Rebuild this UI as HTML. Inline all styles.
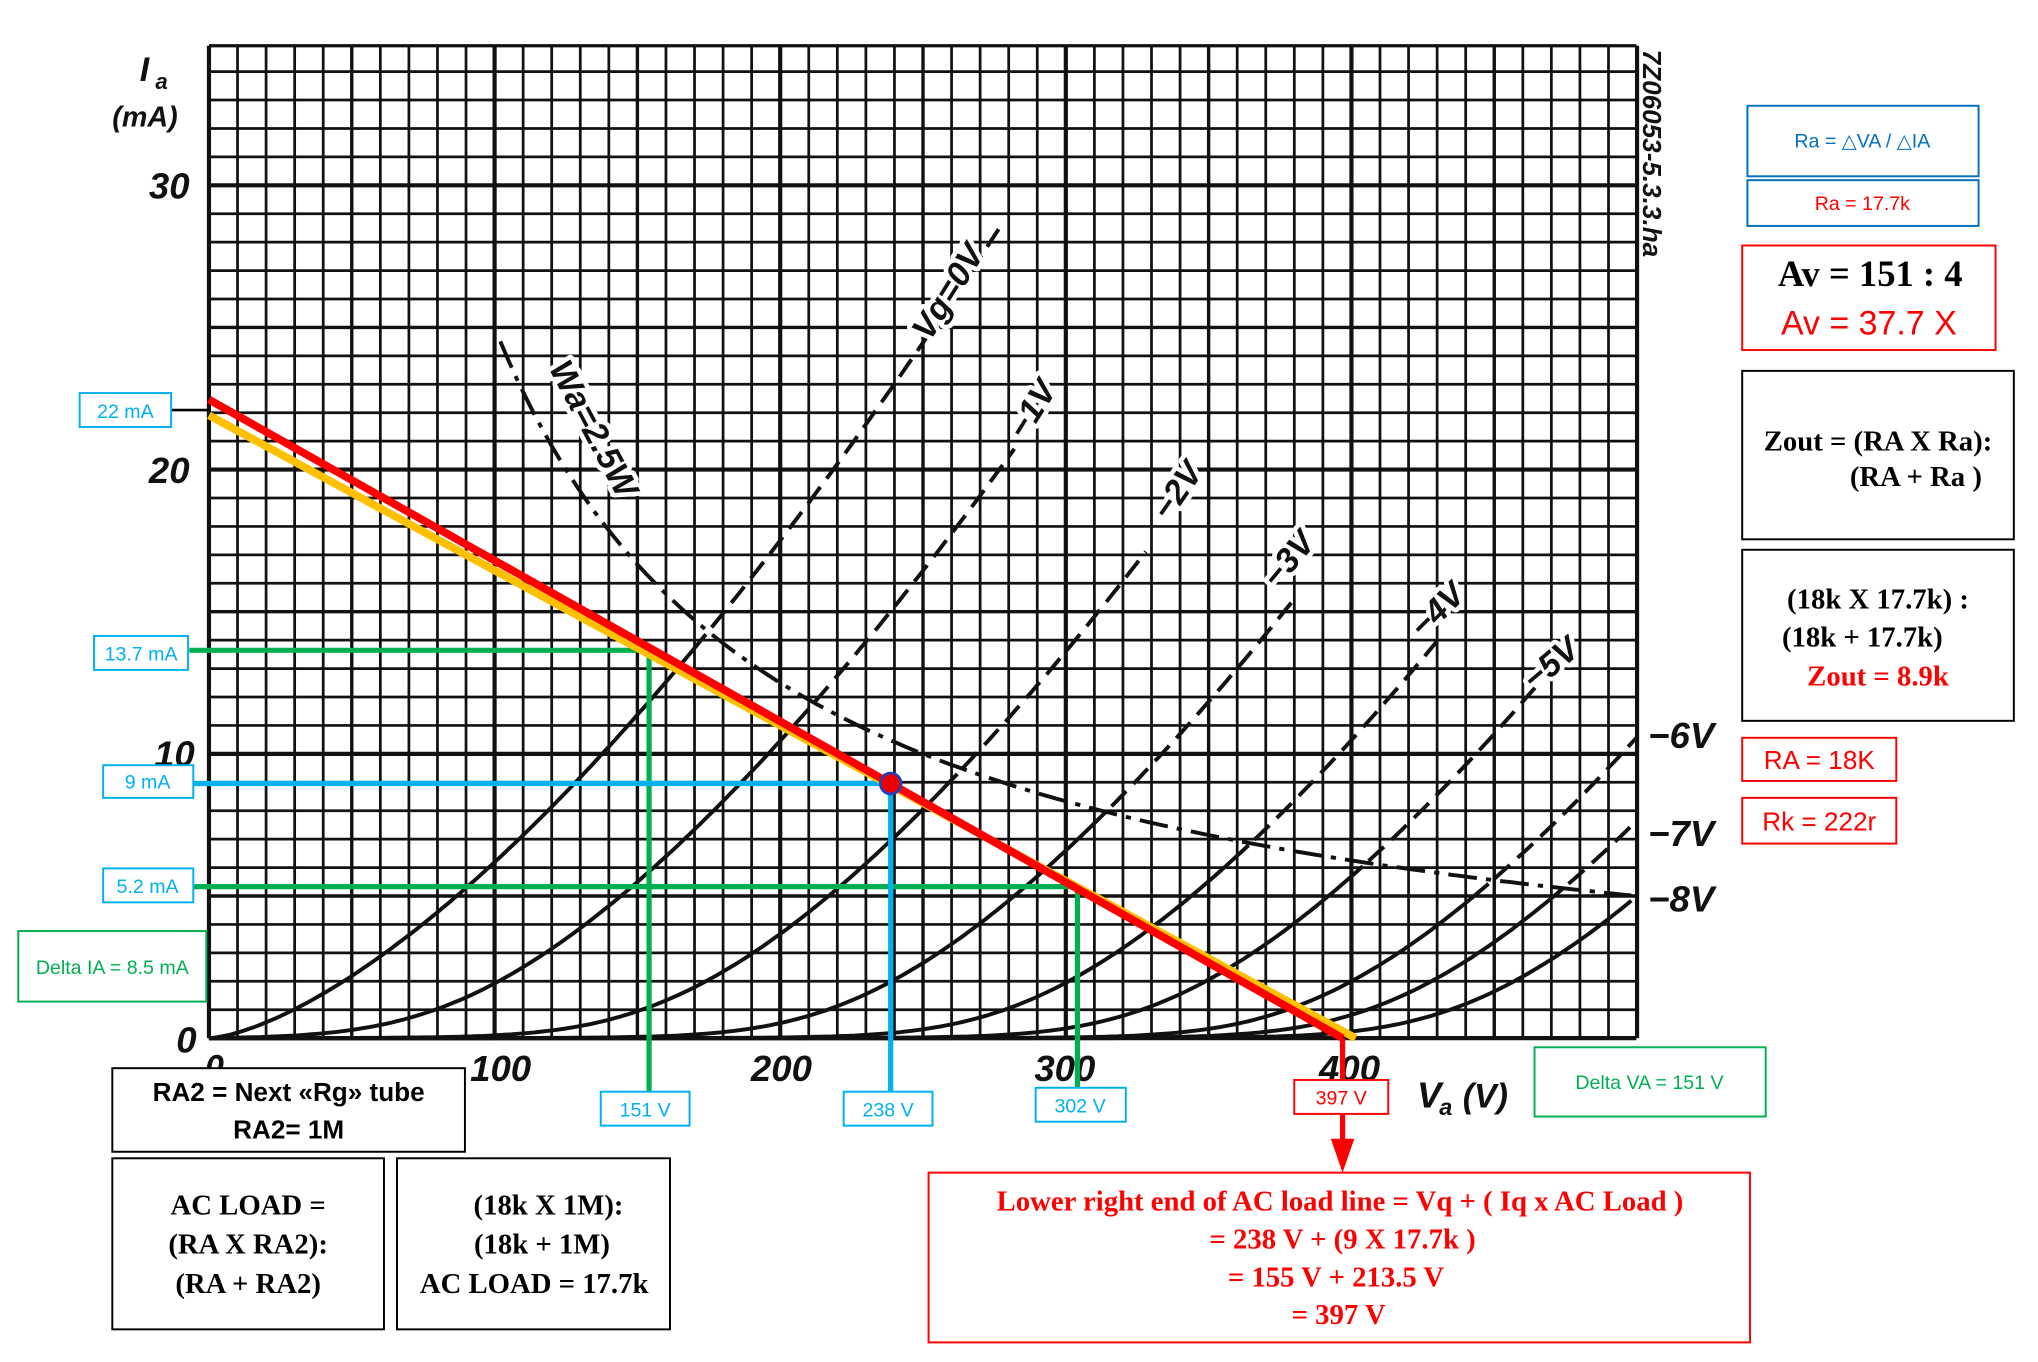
<!DOCTYPE html>
<html><head><meta charset="utf-8"><style>
html,body{margin:0;padding:0;background:#fff;}
svg{display:block;}
.ax{font-family:"Liberation Sans",sans-serif;font-style:italic;font-weight:bold;fill:#111;}
.lb text{paint-order:stroke;stroke:#fff;stroke-width:7px;stroke-linejoin:round;}
.sm{font-family:"Liberation Sans Narrow","Liberation Sans",sans-serif;font-size:15px;}
.sf{font-family:"Liberation Serif",serif;font-weight:bold;}
</style></head><body>
<svg id="s" width="2038" height="1362" viewBox="0 0 1560.5 1043" preserveAspectRatio="none" xmlns="http://www.w3.org/2000/svg">
<rect width="1560.5" height="1043" fill="#fff"/>
<g id="grid"></g>
<g id="curves" fill="none" stroke="#111" stroke-width="3"></g>
<text class="ax" x="107" y="62" font-size="26">I</text><text class="ax" x="119" y="68" font-size="17">a</text>
<text class="ax" x="86" y="97" font-size="22">(mA)</text>
<text class="ax" x="114" y="152" font-size="28">30</text>
<text class="ax" x="114" y="370" font-size="28">20</text>
<text class="ax" x="118" y="587" font-size="28">10</text>
<text class="ax" x="135" y="806" font-size="28">0</text>
<text class="ax" x="157" y="826" font-size="26">0</text>
<text class="ax" x="360" y="828" font-size="28">100</text>
<text class="ax" x="575" y="828" font-size="28">200</text>
<text class="ax" x="792" y="828" font-size="28">300</text>
<text class="ax" x="1010" y="828" font-size="28">400</text>
<text class="ax" x="1085" y="848" font-size="28">V</text><text class="ax" x="1102" y="854" font-size="18">a</text>
<text class="ax" x="1120" y="848" font-size="26">(V)</text>
<text class="ax" x="1262" y="573" font-size="28">−6V</text>
<text class="ax" x="1262" y="648" font-size="28">−7V</text>
<text class="ax" x="1262" y="698" font-size="28">−8V</text>
<text class="ax" font-size="20" transform="translate(1258,38) rotate(90)">7Z06053-5.3.3.ha</text>
<g class="ax lb" font-size="26">
<text transform="translate(712,262) rotate(-58)">Vg=0V</text>
<text transform="translate(785,338) rotate(-58)">−1V</text>
<text transform="translate(895,400) rotate(-55)">−2V</text>
<text transform="translate(978,452) rotate(-50)">−3V</text>
<text transform="translate(1090,490) rotate(-45)">−4V</text>
<text transform="translate(1175,530) rotate(-40)">−5V</text>
<text transform="translate(420,282) rotate(62)">Wa=2.5W</text>
</g>
<g stroke-width="4" fill="none">
<path d="M145 498 H497 V836" stroke="#00b050"/>
<path d="M148 679 H825 V833" stroke="#00b050"/>
<path d="M148 600 H682 V836" stroke="#00b0f0"/>
</g>
<line x1="131" y1="314" x2="160" y2="314" stroke="#000" stroke-width="2"/>
<line x1="160" y1="318" x2="1038" y2="795" stroke="#ffc000" stroke-width="6"/>
<line x1="160" y1="306" x2="1028" y2="795" stroke="#ff0000" stroke-width="6"/>
<circle cx="682" cy="600" r="8" fill="#e00" stroke="#2040c0" stroke-width="2"/>
<path d="M1028 795 V827 M1028 853 V875" stroke="#ff0000" stroke-width="4"/>
<polygon points="1019,872 1037,872 1028,898" fill="#ff0000"/>
<g fill="#fff" stroke-width="1.5">
<rect x="61" y="301" width="70" height="26" stroke="#00b0f0"/>
<rect x="72" y="487" width="72" height="26" stroke="#00b0f0"/>
<rect x="79" y="586" width="69" height="25" stroke="#00b0f0"/>
<rect x="79" y="665" width="69" height="26" stroke="#00b0f0"/>
<rect x="14" y="713" width="144" height="54" stroke="#00b050"/>
<rect x="460" y="836" width="68" height="26" stroke="#00b0f0"/>
<rect x="646" y="836" width="68" height="26" stroke="#00b0f0"/>
<rect x="793" y="833" width="69" height="26" stroke="#00b0f0"/>
<rect x="991" y="827" width="72" height="26" stroke="#ff0000"/>
<rect x="1175" y="802" width="177" height="53" stroke="#00b050"/>
<rect x="86" y="818" width="270" height="64" stroke="#000"/>
<rect x="86" y="887" width="208" height="131" stroke="#000"/>
<rect x="304" y="887" width="209" height="131" stroke="#000"/>
<rect x="711" y="898" width="629" height="130" stroke="#ff0000"/>
<rect x="1338" y="81" width="177" height="54" stroke="#0070c0"/>
<rect x="1338" y="138" width="177" height="35" stroke="#0070c0"/>
<rect x="1334" y="188" width="194" height="80" stroke="#ff0000"/>
<rect x="1334" y="284" width="208" height="129" stroke="#000"/>
<rect x="1334" y="421" width="208" height="131" stroke="#000"/>
<rect x="1334" y="565" width="118" height="33" stroke="#ff0000"/>
<rect x="1334" y="611" width="118" height="35" stroke="#ff0000"/>
</g>
<g class="sm" text-anchor="middle">
<text x="96" y="320" fill="#00b0f0">22 mA</text>
<text x="108" y="506" fill="#00b0f0">13.7 mA</text>
<text x="113" y="604" fill="#00b0f0">9 mA</text>
<text x="113" y="684" fill="#00b0f0">5.2 mA</text>
<text x="86" y="746" fill="#00b050">Delta IA = 8.5 mA</text>
<text x="494" y="855" fill="#00b0f0">151 V</text>
<text x="680" y="855" fill="#00b0f0">238 V</text>
<text x="827" y="852" fill="#00b0f0">302 V</text>
<text x="1027" y="846" fill="#ff0000">397 V</text>
<text x="1263" y="834" fill="#00b050">Delta VA = 151 V</text>
<text x="1426" y="113" fill="#0070c0">Ra = △VA  / △IA</text>
<text x="1426" y="161" fill="#ff0000">Ra = 17.7k</text>
<text x="1393" y="589" fill="#ff0000" font-size="20">RA = 18K</text>
<text x="1393" y="636" fill="#ff0000" font-size="20">Rk = 222r</text>
</g>
<g font-family="Liberation Sans,sans-serif" font-size="20" font-weight="bold" text-anchor="middle" fill="#000">
<text x="221" y="843">RA2 = Next «Rg» tube</text>
<text x="221" y="872">RA2= 1M</text>
</g>
<g class="sf" font-size="22" text-anchor="middle" fill="#000">
<text x="190" y="930">AC LOAD =</text>
<text x="190" y="960">(RA X RA2):</text>
<text x="190" y="990">(RA + RA2)</text>
<text x="420" y="930">(18k X 1M):</text>
<text x="415" y="960">(18k + 1M)</text>
<text x="409" y="990">AC LOAD = 17.7k</text>
<text x="1432" y="219" font-size="28">Av = 151  :  4</text>
<text x="1438" y="345">Zout = (RA X Ra):</text>
<text x="1467" y="372">(RA + Ra )</text>
<text x="1438" y="466">(18k X 17.7k) :</text>
<text x="1426" y="495">(18k + 17.7k)</text>
<text x="1438" y="525" fill="#ff0000">Zout = 8.9k</text>
</g>
<text x="1431" y="256" font-family="Liberation Sans,sans-serif" font-size="26" fill="#ff0000" text-anchor="middle">Av = 37.7 X</text>
<g class="sf" font-size="22" text-anchor="middle" fill="#ff0000">
<text x="1026" y="927">Lower right end of AC load line = Vq + ( Iq x AC Load )</text>
<text x="1028" y="956">= 238 V + (9 X 17.7k )</text>
<text x="1023" y="985">= 155 V + 213.5 V</text>
<text x="1025" y="1014">= 397 V</text>
</g>
</svg>
<script>
(function(){
var NS="http://www.w3.org/2000/svg";
function X(v){return 160+2.187*v;}
function Y(i){return 795-21.77*i;}
function add(parent,tag,attrs){var e=document.createElementNS(NS,tag);for(var a in attrs){e.setAttribute(a,attrs[a]);}parent.appendChild(e);return e;}
var g=document.getElementById('grid');
var i,j,x,y,w;
for(i=0;i<=50;i++){x=X(i*10);w=(i%10==0)?3.2:(i%5==0?2.6:2.1);add(g,'line',{x1:x,y1:35,x2:x,y2:795,stroke:'#111','stroke-width':w});}
for(j=0;j<=34;j++){y=Y(j);w=(j%10==0)?3.2:(j%5==0?2.6:2.1);add(g,'line',{x1:160,y1:y,x2:1253,y2:y,stroke:'#111','stroke-width':w});}
add(g,'line',{x1:160,y1:35,x2:1253,y2:35,stroke:'#111','stroke-width':2.5});
var c=document.getElementById('curves');
var k=0.00619,sw=25;
var defs=[[0,279],[58,283],[131,329],[196,380],[258,430],[306,466],[357,500],[385,500],[414,500]];
for(var n=0;n<defs.length;n++){
  var V0=defs[n][0],E=defs[n][1],sol='',das='';
  var off=(V0>0)?k*Math.pow(sw*Math.log(1+Math.exp(-V0/sw)),1.5):0;
  for(var v=0;v<=E;v+=2){
    var e=(V0==0)?v:sw*Math.log(1+Math.exp((v-V0)/sw));
    var I=k*Math.pow(e,1.5)-off; if(I<0)I=0;
    var p=X(v).toFixed(1)+' '+Y(I).toFixed(1);
    if(v<1||I<2500/v){sol+=(sol?'L':'M')+p;}
    else{das+=(das?'L':'M')+p;}
  }
  add(c,'path',{d:sol});
  if(das){add(c,'path',{d:das,'stroke-dasharray':'16 8'});}
}
var hp='';
for(var vv=102;vv<=500;vv+=3){hp+=(hp?'L':'M')+X(vv).toFixed(1)+' '+Y(2500/vv).toFixed(1);}
add(c,'path',{d:hp,'stroke-dasharray':'22 7 4 7'});
})();
</script>
</body></html>
